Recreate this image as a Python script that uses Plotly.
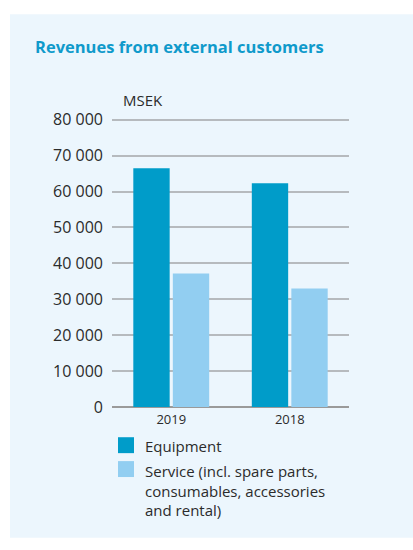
import plotly.graph_objects as go

# Revenue split by year (MSEK)
years = ["2019", "2018"]
equipment = [66500, 62300]
service = [37200, 33000]

series_names = ["Equipment", "Service (incl. spare parts,<br>consumables, accessories<br>and rental)"]
y_ticks = [0, 10000, 20000, 30000, 40000, 50000, 60000, 70000, 80000]

W, H = 413, 550
# the page puts the figure 8 px down and the capture is squeezed slightly in height
PAGE_TOP = 8
V_SCALE = 0.97
EQ_COLOR = "#009cc9"
SV_COLOR = "#92cef1"
PANEL = "#ecf6fd"
TEXT = "#2b2b2b"
FONT = "Open Sans"

Y_MAX = 81000          # a little headroom so the 80 000 grid line is drawn
ZERO_PX, TOP80_PX = 408.7, 120.0
TOP_PX = ZERO_PX - (ZERO_PX - TOP80_PX) * Y_MAX / 80000


def px(x):
    return x / W


def py(y):
    # y is a position in the captured window, measured from its top
    return 1 - (y / V_SCALE - PAGE_TOP) / H


fig = go.Figure()
fig.add_trace(go.Bar(x=years, y=equipment, name="Equipment",
                     marker=dict(color=EQ_COLOR, line=dict(width=0)), showlegend=False))
fig.add_trace(go.Bar(x=years, y=service, name="Service",
                     marker=dict(color=SV_COLOR, line=dict(width=0)), showlegend=False))

shapes = [
    # background panel
    dict(type="rect", xref="paper", yref="paper", layer="below",
         x0=px(10), x1=px(413), y0=py(540), y1=py(14),
         fillcolor=PANEL, line=dict(width=0)),
    # legend swatches
    dict(type="rect", xref="paper", yref="paper",
         x0=px(118), x1=px(134), y0=py(455), y1=py(439),
         fillcolor=EQ_COLOR, line=dict(width=0)),
    dict(type="rect", xref="paper", yref="paper",
         x0=px(118), x1=px(134), y0=py(479), y1=py(463),
         fillcolor=SV_COLOR, line=dict(width=0)),
]

annotations = [
    dict(text="<b>Revenues from external customers</b>", xref="paper", yref="paper",
         x=px(33), y=py(46), xanchor="left", yanchor="middle", showarrow=False,
         font=dict(family=FONT, size=16.5, color="#0f9acb")),
    dict(text="MSEK", xref="paper", yref="paper",
         x=px(121), y=py(100), xanchor="left", yanchor="middle", showarrow=False,
         font=dict(family=FONT, size=15, color=TEXT)),
    dict(text=series_names[0], xref="paper", yref="paper",
         x=px(143), y=py(448), xanchor="left", yanchor="middle", showarrow=False,
         font=dict(family=FONT, size=15, color=TEXT)),
    dict(text=series_names[1], xref="paper", yref="paper", align="left",
         x=px(143), y=py(461), xanchor="left", yanchor="top", showarrow=False,
         font=dict(family=FONT, size=15, color=TEXT)),
]

fig.update_layout(
    width=W, height=H,
    margin=dict(l=0, r=0, t=0, b=0),
    paper_bgcolor="white",
    plot_bgcolor="rgba(0,0,0,0)",
    separators=", ",
    barmode="group",
    bargap=0.333,
    bargroupgap=0.08,
    shapes=shapes,
    annotations=annotations,
    font=dict(family=FONT, color=TEXT),
    xaxis=dict(domain=[px(112), px(349)], range=[-0.5, 1.5],
               showgrid=False, showline=False, zeroline=False,
               tickfont=dict(size=13, color=TEXT), ticks="", ticklabelstandoff=3),
    yaxis=dict(domain=[py(ZERO_PX), py(TOP_PX)], range=[0, Y_MAX],
               tickvals=y_ticks, tickformat=",d",
               showgrid=True, gridcolor="#b6babe", gridwidth=1.5,
               zeroline=True, zerolinecolor="#9a9a9a", zerolinewidth=2,
               showline=False, ticks="", ticklabelstandoff=8,
               tickfont=dict(size=16, color=TEXT)),
)

fig.write_html("out.html")
